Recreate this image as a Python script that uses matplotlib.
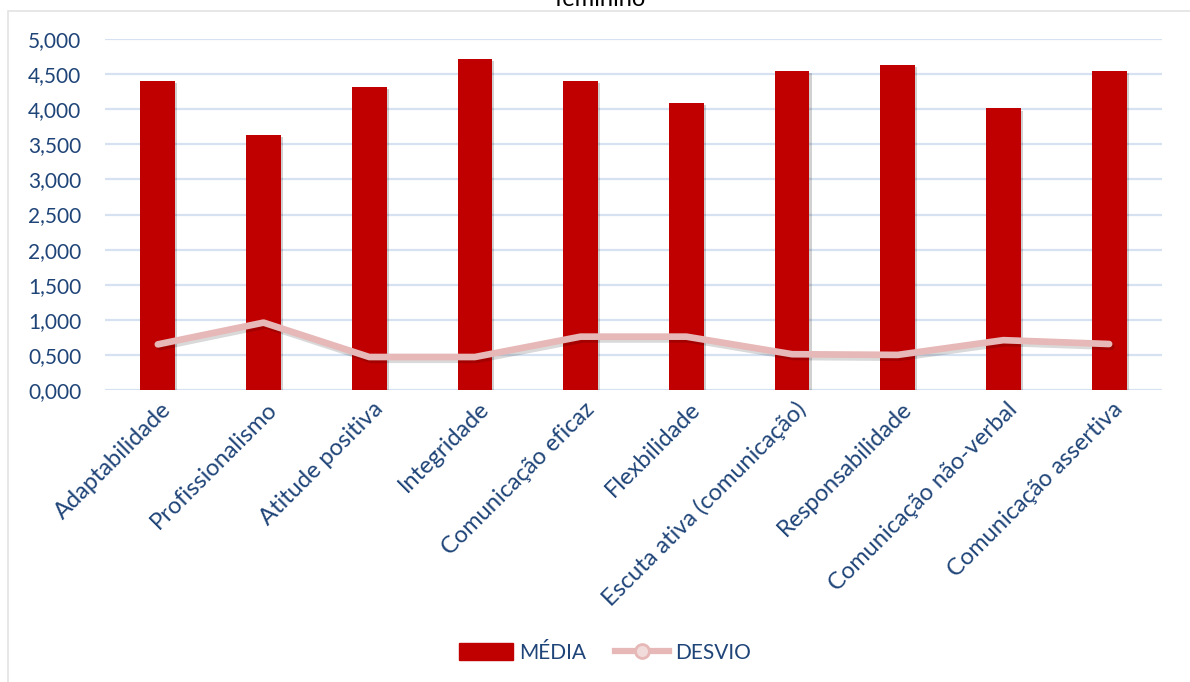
"""
Recreation of the MÉDIA / DESVIO soft-skills chart (feminino).
"""

import matplotlib
matplotlib.use("Agg")
import matplotlib.pyplot as plt
import matplotlib.patheffects as pe
import matplotlib.transforms as mtransforms
from matplotlib.lines import Line2D
from matplotlib.patches import Patch, Rectangle
from matplotlib.ticker import FuncFormatter
import numpy as np

categorias = [
    "Adaptabilidade",
    "Profissionalismo",
    "Atitude positiva",
    "Integridade",
    "Comunicação eficaz",
    "Flexbilidade",
    "Escuta ativa (comunicação)",
    "Responsabilidade",
    "Comunicação não-verbal",
    "Comunicação assertiva",
]
media = [4.40, 3.63, 4.32, 4.71, 4.40, 4.09, 4.55, 4.63, 4.01, 4.55]
desvio = [0.65, 0.96, 0.47, 0.47, 0.76, 0.76, 0.51, 0.50, 0.71, 0.655]
yticks = [0, 0.5, 1, 1.5, 2, 2.5, 3, 3.5, 4, 4.5, 5]

BAR_RED = "#C00000"
LINE_PINK = "#E6B8B7"
TEXT_BLUE = "#1F4478"
GRID_BLUE = "#D6E2F1"

plt.rcParams["font.family"] = ["Lato", "DejaVu Sans"]

fig = plt.figure(figsize=(11.9, 6.82), dpi=100)
ax = fig.add_axes([105 / 1190, 1 - 390 / 682, (1162 - 105) / 1190, (390 - 39) / 682])

# chart frame
fig.patches.append(Rectangle((8 / 1190, -0.01), 1.0, 1 - 11 / 682 + 0.01,
                             transform=fig.transFigure, fill=False,
                             edgecolor="#E3E3E3", lw=1.2, zorder=0))

x = np.arange(len(categorias))
bars = ax.bar(x, media, width=0.33, color=BAR_RED, zorder=2)
for b in bars:
    b.set_path_effects([pe.withSimplePatchShadow(offset=(1.5, -1.5),
                                                 shadow_rgbFace="black", alpha=0.18)])

ax.plot(x, desvio, color=LINE_PINK, lw=4.8, solid_capstyle="round",
        solid_joinstyle="round", zorder=3,
        path_effects=[pe.SimpleLineShadow(offset=(1.5, -2), shadow_color="black", alpha=0.15),
                      pe.Normal()])

ax.set_xlim(-0.5, len(categorias) - 0.5)
ax.set_ylim(0, 5)
ax.set_yticks(yticks)
ax.yaxis.set_major_formatter(FuncFormatter(lambda v, p: f"{v:.3f}".replace(".", ",")))
ax.grid(axis="y", color=GRID_BLUE, lw=1.6, zorder=0)
ax.set_axisbelow(True)
for s in ax.spines.values():
    s.set_visible(False)

ax.tick_params(axis="y", length=0, pad=17, labelsize=15, labelcolor=TEXT_BLUE)
ax.tick_params(axis="x", length=0, pad=6)
ax.set_xticks(x)
ax.set_xticklabels(categorias, rotation=45, ha="right", va="top",
                   rotation_mode="anchor", fontsize=17, color=TEXT_BLUE)
shift = mtransforms.ScaledTranslation(3 / 100, 0, fig.dpi_scale_trans)
for lbl in ax.get_xticklabels():
    lbl.set_transform(lbl.get_transform() + shift)

# title clipped at the top of the image, as in the source
fig.text(600 / 1190, 1 - 6 / 682, "feminino", ha="center", va="baseline",
         fontsize=17, color="black")

handles = [
    Patch(facecolor=BAR_RED, edgecolor=BAR_RED, label="MÉDIA"),
    Line2D([0], [0], color=LINE_PINK, lw=4.5, marker="o", markersize=10,
           markerfacecolor="#F2DCDB", markeredgecolor=LINE_PINK, markeredgewidth=2,
           label="DESVIO"),
]
fig.legend(handles=handles, loc="center", bbox_to_anchor=(605 / 1190, 1 - 653 / 682),
           ncol=2, frameon=False, fontsize=15, labelcolor=TEXT_BLUE,
           handlelength=2.6, handleheight=0.9, handletextpad=0.3, columnspacing=1.4)

fig.savefig("out.png", dpi=100)
